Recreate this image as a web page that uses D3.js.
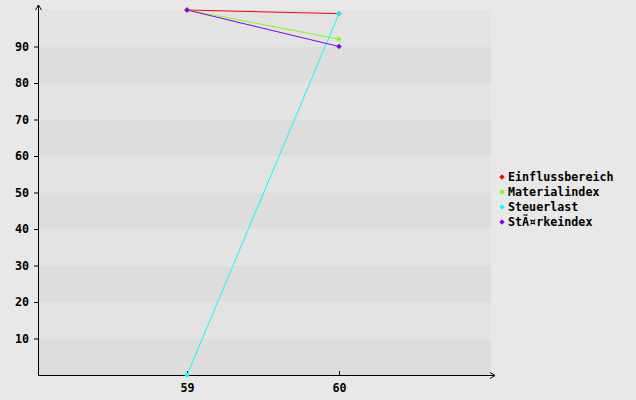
<!DOCTYPE html>
<html>
<head>
<meta charset="utf-8">
<script src="https://cdn.jsdelivr.net/npm/d3@7"></script>
<style>
  body { margin: 0; background: #e8e8e8; }
  text { font-family: "DejaVu Sans Mono", monospace; font-weight: bold; font-size: 11.7px; }
</style>
</head>
<body>
<div id="chart"></div>
<script>
// data
let xValues = [59, 60];
let seriesNames = ["Einflussbereich", "Materialindex", "Steuerlast", "StÃ¤rkeindex"];
let seriesColors = ["#ff0000", "#80ff00", "#00ffff", "#8000ff"];
let einfluss = [100, 99];
let material = [100, 92];
let steuer = [0, 99];
let staerke = [100, 90];
let yTicks = [10, 20, 30, 40, 50, 60, 70, 80, 90];

let width = 636, height = 400;
let plotLeft = 38, plotRight = 491, plotTop = 10, plotBottom = 375;

let svg = d3.select("#chart")
    .append("svg")
    .attr("width", width)
    .attr("height", height)
    .style("display", "block");

svg.append("rect")
    .attr("width", width)
    .attr("height", height)
    .attr("fill", "#e8e8e8");

let x = d3.scaleLinear().domain([59, 60]).range([187, 339]);
let y = d3.scaleLinear().domain([0, 100]).range([plotBottom, plotTop]);

// background bands
let bands = d3.range(0, 100, 10);
svg.append("g")
    .selectAll("rect")
    .data(bands)
    .enter()
    .append("rect")
    .attr("x", plotLeft)
    .attr("width", plotRight - plotLeft)
    .attr("y", d => y(d + 10))
    .attr("height", d => y(d) - y(d + 10))
    .attr("fill", (d, i) => i % 2 == 0 ? "#dddddd" : "#e3e3e3");

// axes
let yAxis = svg.append("g")
    .attr("transform", `translate(${plotLeft},0)`)
    .call(d3.axisLeft(y).tickValues(yTicks).tickSize(4).tickPadding(5));
yAxis.select(".domain").remove();

let xAxis = svg.append("g")
    .attr("transform", `translate(0,${plotBottom})`)
    .call(d3.axisBottom(x).tickValues(xValues).tickFormat(d3.format("d")).tickSize(-4).tickPadding(9));
xAxis.select(".domain").remove();

svg.selectAll(".tick text").attr("fill", "#000");
svg.selectAll(".tick line").attr("stroke", "#000");

svg.append("line")
    .attr("x1", plotLeft + 0.5).attr("x2", plotLeft + 0.5)
    .attr("y1", plotBottom).attr("y2", 6)
    .attr("stroke", "#000");
svg.append("path")
    .attr("d", `M${plotLeft - 2.5},10 L${plotLeft + 0.5},5 L${plotLeft + 3.5},10`)
    .attr("fill", "none")
    .attr("stroke", "#000");

svg.append("line")
    .attr("x1", plotLeft).attr("x2", 494)
    .attr("y1", plotBottom + 0.5).attr("y2", plotBottom + 0.5)
    .attr("stroke", "#000");
svg.append("path")
    .attr("d", `M490,${plotBottom - 2.5} L495,${plotBottom + 0.5} L490,${plotBottom + 3.5}`)
    .attr("fill", "none")
    .attr("stroke", "#000");

// series
let series = [einfluss, material, steuer, staerke];
let line = d3.line()
    .x((d, i) => x(xValues[i]))
    .y(d => y(d));

let marker = d3.symbol().type(d3.symbolSquare).size(14);

series.forEach(function (vals, k) {
    let g = svg.append("g");
    g.append("path")
        .attr("d", line(vals))
        .attr("fill", "none")
        .attr("stroke", seriesColors[k])
        .attr("stroke-width", 1);
    g.selectAll("path.pt")
        .data(vals)
        .enter()
        .append("path")
        .attr("class", "pt")
        .attr("d", marker)
        .attr("transform", (d, i) => `translate(${x(xValues[i])},${y(d)}) rotate(45)`)
        .attr("fill", seriesColors[k]);
});

// legend
let legend = svg.append("g")
    .attr("transform", "translate(502,177)");
seriesNames.forEach(function (name, k) {
    let row = legend.append("g").attr("transform", `translate(0,${k * 15})`);
    row.append("path")
        .attr("d", marker)
        .attr("transform", "rotate(45)")
        .attr("fill", seriesColors[k]);
    row.append("text")
        .attr("x", 6)
        .attr("y", 4)
        .text(name);
});
</script>
</body>
</html>
